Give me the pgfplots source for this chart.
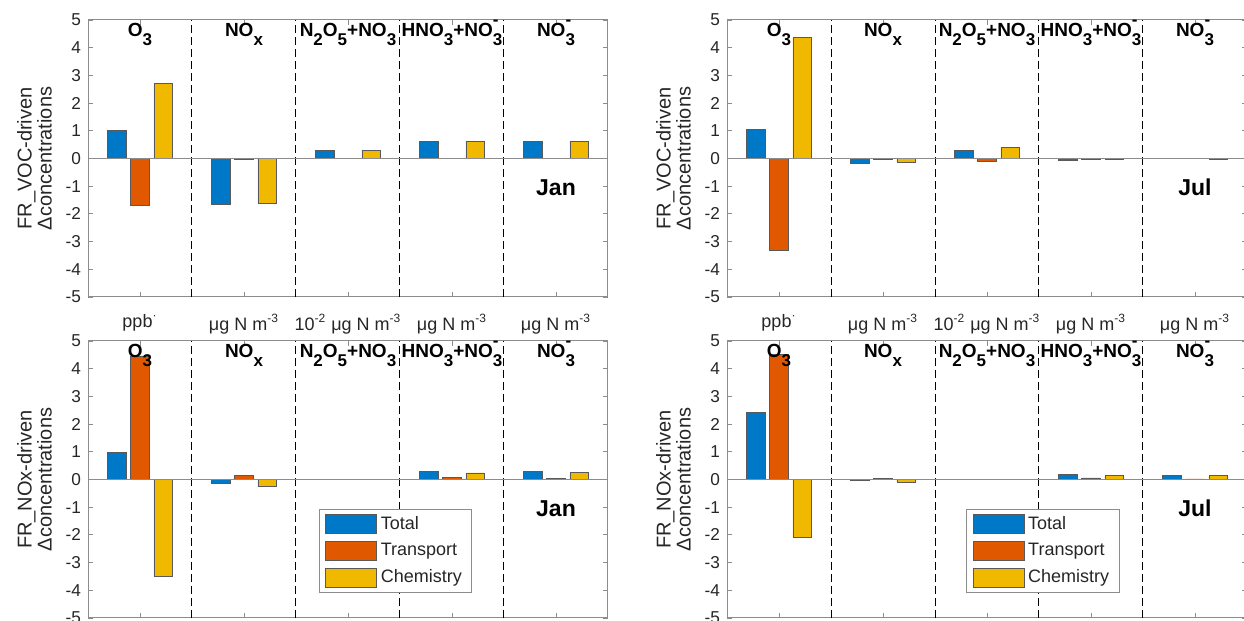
\documentclass[border=0pt]{standalone}
\usepackage{fontspec}
\setmainfont{Liberation Sans}
\usepackage{pgfplots}
\pgfplotsset{compat=1.18}

\definecolor{cTotal}{RGB}{0,120,200}
\definecolor{cTrans}{RGB}{224,88,0}
\definecolor{cChem}{RGB}{240,185,0}
\definecolor{axgray}{RGB}{140,140,140}
\definecolor{txt}{RGB}{38,38,38}

% MATLAB-like sub/superscripts for the bold group titles
\newcommand{\subs}[1]{\raisebox{-0.85ex}{\fontsize{8.5}{8.5}\selectfont #1}}
\newcommand{\ion}{\rlap{\raisebox{1.1ex}{\fontsize{8.5}{8.5}\selectfont -}}\subs{3}}
\newcommand{\fsz}{\fontsize{8.6}{10}\selectfont}
\newcommand{\xsz}{\fontsize{9}{10}\selectfont}
\newcommand{\gsz}{\fontsize{9.5}{11}\selectfont}

\pgfplotsset{
  swatch/.style={legend image code/.code={\draw[##1] (0pt,-4.75pt) rectangle (25.5pt,4.75pt);}},
  panel/.style={
    scale only axis, width=260pt, height=138.5pt,
    xmin=0.5, xmax=5.5, ymin=-5, ymax=5,
    ybar, bar width=0.178,
    xtick={1,...,5}, ytick={-5,...,5},
    xticklabels={ppb\textsuperscript{·}, μg N m\textsuperscript{-3}, 10\textsuperscript{-2} μg N m\textsuperscript{-3}, μg N m\textsuperscript{-3}, μg N m\textsuperscript{-3}},
    tick align=inside, major tick length=2.5pt, tick pos=both,
    axis line style={draw=axgray, line width=0.5pt},
    tick style={draw=axgray, line width=0.4pt},
    every tick label/.append style={font=\fsz, text=txt},
    xticklabel style={font=\xsz, yshift=-5pt},
    /pgf/number format/assume math mode=true,
    extra x ticks={1.5,2.5,3.5,4.5}, extra x tick labels={},
    extra x tick style={grid=major, major tick length=0pt,
      major grid style={black, dash pattern=on 4pt off 2pt, line width=0.5pt}},
    ylabel style={align=center, font=\fontsize{10}{10}\selectfont, text=txt},
    legend style={draw=axgray, font=\xsz, text=txt, anchor=north west,
      inner xsep=3pt, inner ysep=1.5pt, row sep=1.4pt, cells={anchor=west}},
    legend cell align=left,
  },
  total/.style={fill=cTotal, draw=black!65, line width=0.3pt, bar shift=-0.222, swatch},
  trans/.style={fill=cTrans, draw=black!65, line width=0.3pt, bar shift=0, swatch},
  chem/.style={fill=cChem, draw=black!65, line width=0.3pt, bar shift=0.222, swatch},
}

\newcommand{\groups}[1]{%
  \draw[axgray, line width=0.5pt] (axis cs:0.5,0) -- (axis cs:5.5,0);
  \node[font=\bfseries\gsz, anchor=base] at (axis cs:1,4.4) {O\subs{3}};
  \node[font=\bfseries\gsz, anchor=base] at (axis cs:2,4.4) {NO\subs{x}};
  \node[font=\bfseries\gsz, anchor=base] at (axis cs:3,4.4) {N\subs{2}O\subs{5}+NO\subs{3}};
  \node[font=\bfseries\gsz, anchor=base] at (axis cs:4,4.4) {HNO\subs{3}+NO\ion};
  \node[font=\bfseries\gsz, anchor=base] at (axis cs:5,4.4) {NO\ion};
  \node[font=\bfseries\fontsize{11.5}{13}\selectfont, text=black] at (axis cs:5,-1.05) {#1};
}

\begin{document}
\begin{tikzpicture}
\useasboundingbox (0,0) rectangle (622pt,310.5pt);
\clip (0,0) rectangle (622pt,310.5pt);

% top left: VOC-driven, January
\begin{axis}[panel, at={(44pt,162pt)}, anchor=south west,
  ylabel={FR\_VOC-driven\\Δconcentrations}]
\addplot[total] coordinates {(1,1.02) (2,-1.64) (3,0.30) (4,0.63) (5,0.62)};
\addplot[trans] coordinates {(1,-1.68) (2,-0.02) (3,0.00) (4,0.00) (5,0.00)};
\addplot[chem] coordinates {(1,2.70) (2,-1.60) (3,0.30) (4,0.63) (5,0.62)};
\groups{Jan}
\end{axis}

% top right: VOC-driven, July
\begin{axis}[panel, at={(363.5pt,162pt)}, anchor=south west,
  ylabel={FR\_VOC-driven\\Δconcentrations}]
\addplot[total] coordinates {(1,1.04) (2,-0.16) (3,0.30) (4,-0.07) (5,-0.01)};
\addplot[trans] coordinates {(1,-3.33) (2,-0.02) (3,-0.10) (4,-0.04) (5,0.00)};
\addplot[chem] coordinates {(1,4.37) (2,-0.14) (3,0.41) (4,-0.04) (5,-0.02)};
\groups{Jul}
\end{axis}

% bottom left: NOx-driven, January
\begin{axis}[panel, at={(44pt,1.5pt)}, anchor=south west, xticklabels={},
  ylabel={FR\_NOx-driven\\Δconcentrations},
  legend style={at={(rel axis cs:0.444,0.394)}}]
\addplot[total] coordinates {(1,0.98) (2,-0.13) (3,0.01) (4,0.29) (5,0.29)};
\addplot[trans] coordinates {(1,4.46) (2,0.15) (3,0.01) (4,0.08) (5,0.04)};
\addplot[chem] coordinates {(1,-3.48) (2,-0.26) (3,0.00) (4,0.24) (5,0.25)};
\legend{Total,Transport,Chemistry}
\groups{Jan}
\end{axis}

% bottom right: NOx-driven, July
\begin{axis}[panel, at={(363.5pt,1.5pt)}, anchor=south west, xticklabels={},
  ylabel={FR\_NOx-driven\\Δconcentrations},
  legend style={at={(rel axis cs:0.46,0.394)}}]
\addplot[total] coordinates {(1,2.42) (2,-0.04) (3,0.01) (4,0.19) (5,0.14)};
\addplot[trans] coordinates {(1,4.51) (2,0.05) (3,0.01) (4,0.06) (5,0.02)};
\addplot[chem] coordinates {(1,-2.10) (2,-0.10) (3,0.01) (4,0.14) (5,0.14)};
\legend{Total,Transport,Chemistry}
\groups{Jul}
\end{axis}
\end{tikzpicture}
\end{document}
